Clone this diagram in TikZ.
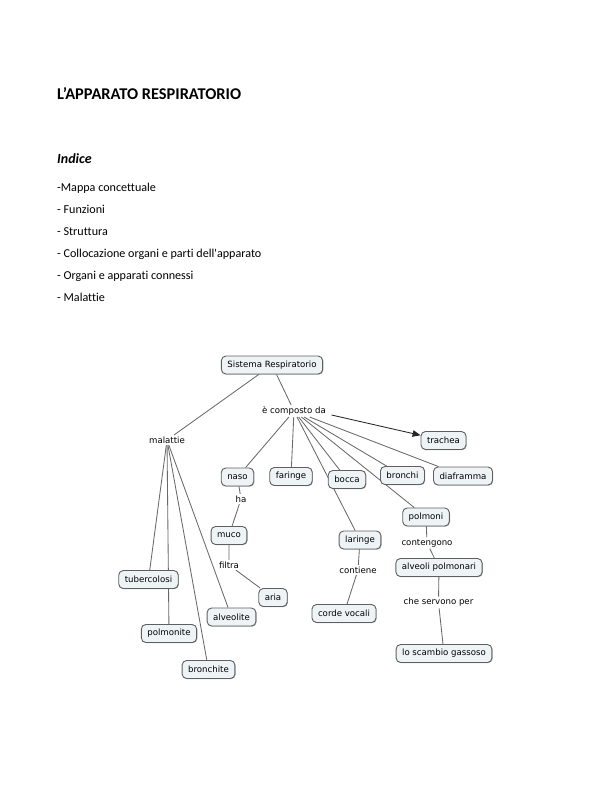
\documentclass[tikz,border=0pt]{standalone}
\usepackage{fontspec}
\setmainfont{Carlito}[Ligatures={TeX,NoCommon}]
\newfontfamily\mapfont{DejaVu Sans}
\usetikzlibrary{arrows.meta,backgrounds,shadows}

\definecolor{boxfill}{RGB}{238,244,246}
\definecolor{boxline}{RGB}{95,95,95}
\definecolor{linkline}{RGB}{105,105,105}

\tikzset{
    concept/.style={draw=boxline, fill=boxfill, line width=0.9pt, rounded corners=4.5pt,
        minimum height=18pt, inner xsep=6pt, inner ysep=2pt,
        font=\mapfont\fontsize{8.6}{10}\selectfont,
        drop shadow={shadow xshift=0.7pt, shadow yshift=-0.7pt, fill=black, opacity=0.3}},
    phrase/.style={inner sep=1.5pt, font=\mapfont\fontsize{8.6}{10}\selectfont},
    link/.style={draw=linkline, line width=0.85pt},
}

\begin{document}
\begin{tikzpicture}[x=1pt, y=-1pt]
    \useasboundingbox (0,0) rectangle (612,792);

    % testo della pagina
    \node[anchor=base west, inner sep=0pt, font=\bfseries\fontsize{16.4}{19}\selectfont] (titolo) at (57,99.5) {L’APPARATO RESPIRATORIO};
    \node[anchor=base west, inner sep=0pt, font=\bfseries\itshape\fontsize{14}{17}\selectfont] (indice) at (57,163) {Indice};
    \foreach \voce [count=\i] in {-Mappa concettuale, - Funzioni, - Struttura,
        - Collocazione organi e parti dell\textquotesingle apparato, - Organi e apparati connessi, - Malattie} {
        \node[anchor=base west, inner sep=0pt, font=\fontsize{12.1}{14}\selectfont] (voce\i) at (57,191.5+\i*21.9-21.9) {\voce};
    }

    % mappa concettuale
    \node[concept] (sistema) at (272,365) {Sistema Respiratorio};
    \node[phrase] (composto) at (294,411) {è composto da};
    \node[phrase] (malattie) at (167,440) {malattie};

    \node[concept] (trachea) at (443.5,440.5) {trachea};
    \node[concept] (naso) at (237.5,477) {naso};
    \node[concept] (faringe) at (291,476.5) {faringe};
    \node[concept] (bocca) at (347,479.5) {bocca};
    \node[concept] (bronchi) at (402.5,475.5) {bronchi};
    \node[concept] (diaframma) at (463,476) {diaframma};
    \node[concept] (polmoni) at (426,517) {polmoni};
    \node[concept] (laringe) at (360,540) {laringe};

    \node[phrase] (ha) at (241,499) {ha};
    \node[concept] (muco) at (229,535.5) {muco};
    \node[phrase] (filtra) at (229,565) {filtra};
    \node[concept] (aria) at (273,597.5) {aria};

    \node[phrase] (contiene) at (358,570) {contiene};
    \node[concept] (corde) at (344,613.5) {corde vocali};

    \node[phrase] (contengono) at (427,543) {contengono};
    \node[concept] (alveoli) at (439,567.5) {alveoli polmonari};
    \node[phrase] (servono) at (438.5,602.5) {che servono per};
    \node[concept] (scambio) at (444,653.5) {lo scambio gassoso};

    \node[concept] (tubercolosi) at (148.5,579.5) {tubercolosi};
    \node[concept] (alveolite) at (231.5,617) {alveolite};
    \node[concept] (polmonite) at (169,633.5) {polmonite};
    \node[concept] (bronchite) at (208.5,669.5) {bronchite};

    \begin{scope}[on background layer]
        \draw[link] (sistema) -- (malattie);
        \draw[link] (sistema) -- (composto);
        \draw[link, draw=black!85, -{Triangle[length=8pt, width=6.5pt]}] (composto.east) ++(4,4) -- (trachea);
        \foreach \organo in {naso, faringe, bocca, laringe, bronchi, polmoni, diaframma} {
            \draw[link] (composto) -- (\organo);
        }
        \foreach \malattia in {tubercolosi, polmonite, bronchite, alveolite} {
            \draw[link] (malattie) -- (\malattia);
        }
        \draw[link] (naso) -- (ha) -- (muco) -- (filtra) -- (aria);
        \draw[link] (laringe) -- (contiene) -- (corde);
        \draw[link] (polmoni) -- (contengono) -- (alveoli) -- (servono) -- (scambio);
    \end{scope}
\end{tikzpicture}
\end{document}
